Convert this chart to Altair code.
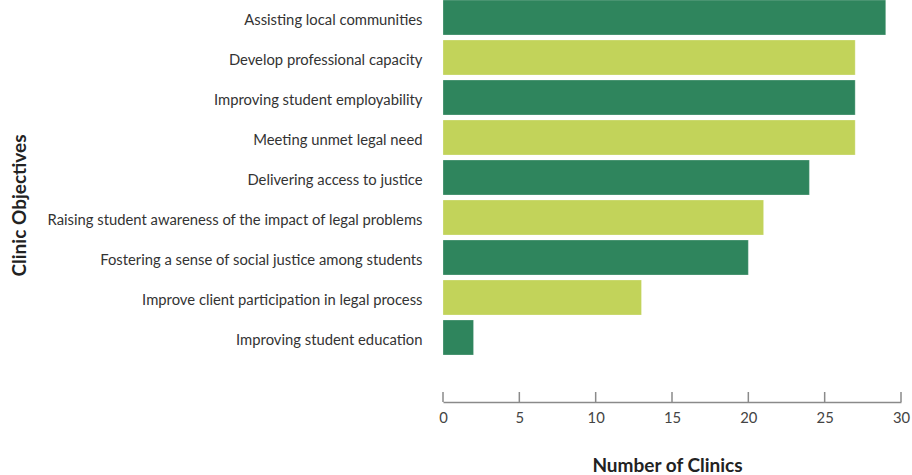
import altair as alt
import pandas as pd

objectives = [
    "Assisting local communities",
    "Develop professional capacity",
    "Improving student employability",
    "Meeting unmet legal need",
    "Delivering access to justice",
    "Raising student awareness of the impact of legal problems",
    "Fostering a sense of social justice among students",
    "Improve client participation in legal process",
    "Improving student education",
]
clinics = [29, 27, 27, 27, 24, 21, 20, 13, 2]
shade = ["dark", "light", "dark", "light", "dark", "light", "dark", "light", "dark"]
tick_values = [0, 5, 10, 15, 20, 25, 30]

df = pd.DataFrame({"objective": objectives, "clinics": clinics, "shade": shade})
ticks_df = pd.DataFrame({"clinics": tick_values})

FONT = "Lato"

x_enc = alt.X(
    "clinics:Q",
    scale=alt.Scale(domain=[0, 30], nice=False),
    axis=alt.Axis(
        values=tick_values,
        offset=47,
        ticks=False,
        tickSize=0,
        grid=False,
        domainColor="#8a8a8a",
        domainWidth=1.5,
        labelFont=FONT,
        labelFontSize=14.8,
        labelColor="#444444",
        labelPadding=8,
        labelFlush=False,
        title="Number of Clinics",
        titleFont=FONT,
        titleFontSize=19,
        titleFontWeight="bold",
        titleColor="#222222",
        titlePadding=32,
        titleX=224,
    ),
)

bars = alt.Chart(df).mark_bar(stroke="#ffffff", strokeOpacity=0.25, strokeWidth=1).encode(
    x=x_enc,
    y=alt.Y(
        "objective:N",
        sort=objectives,
        scale=alt.Scale(paddingInner=0.125, paddingOuter=0),
        axis=alt.Axis(
            ticks=False,
            tickSize=0,
            domain=False,
            grid=False,
            labelFont=FONT,
            labelFontSize=14.8,
            labelColor="#333333",
            labelPadding=21,
            labelOffset=3,
            labelLimit=0,
            title="Clinic Objectives",
            titleFont=FONT,
            titleFontSize=19,
            titleFontWeight="bold",
            titleColor="#222222",
            titleAngle=-90,
            titleX=-424,
            titleY=205,
            titleAlign="center",
            titleBaseline="middle",
        ),
    ),
    color=alt.Color(
        "shade:N",
        scale=alt.Scale(domain=["dark", "light"], range=["#2f855d", "#c2d35a"]),
        legend=None,
    ),
)

tick_marks = alt.Chart(ticks_df).mark_rule(color="#8a8a8a", strokeWidth=1.5).encode(
    x=x_enc,
    y=alt.value(392),
    y2=alt.value(402),
)

chart = (
    alt.layer(bars, tick_marks)
    .properties(
        width=458,
        height=355,
        autosize=alt.AutoSizeParams(type="none"),
        padding={"left": 443, "top": 0, "right": 11, "bottom": 120},
    )
    .configure(background="white")
    .configure_view(stroke=None)
)

chart.save("out.html", embed_options={"renderer": "svg", "actions": False})
